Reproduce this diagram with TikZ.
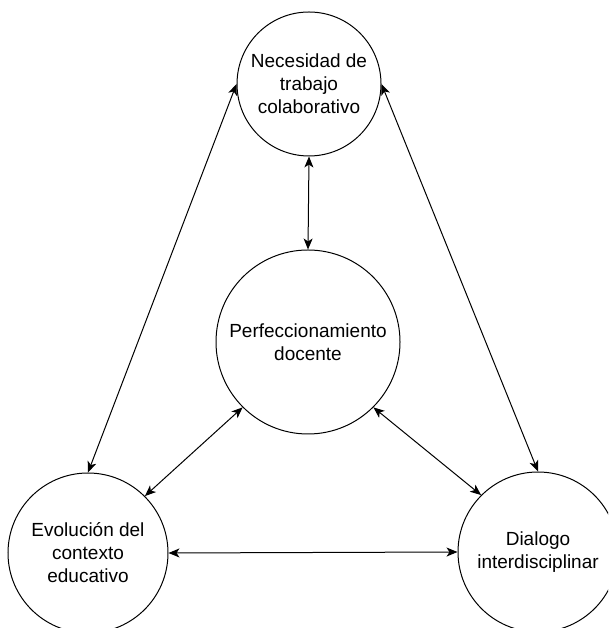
\documentclass[tikz,border=0pt]{standalone}
\usepackage{fontspec}
\setmainfont{Liberation Sans}
\usepackage{tikz}
\usetikzlibrary{positioning, arrows.meta}
\tikzstyle{idea} = [circle, draw, line width=1pt, align=center, inner sep=0pt, font=\fontsize{19}{23}\selectfont]
\tikzstyle{link} = [draw, line width=1pt, {Stealth[length=11pt, width=9pt, inset=3pt]}-{Stealth[length=11pt, width=9pt, inset=3pt]}]

\begin{document}
\begin{tikzpicture}[x=1pt, y=1pt, node distance=220pt]
        \useasboundingbox (0,0) rectangle (608,628);
        \clip (0,0) rectangle (608,628);
        % Nodes
        \node (perf) [idea, minimum size=184pt] at (308,286) {Perfeccionamiento\\docente};
        \node (nec) [idea, minimum size=144pt, above of=perf, yshift=38pt, xshift=1pt] {Necesidad de\\trabajo\\colaborativo};
        \node (evo) [idea, minimum size=160pt, left of=perf, yshift=-211pt] {Evolución del\\contexto\\educativo};
        \node (dia) [idea, minimum size=160pt, right of=perf, xshift=10pt, yshift=-210pt] {Dialogo\\interdisciplinar};
        % Edges
        \path [link] (nec.south) -- (perf.north);
        \path [link] (nec.west) -- (evo.north);
        \path [link] (nec.east) -- (dia.north);
        \path [link] (perf.south west) -- (evo.north east);
        \path [link] (perf.south east) -- (dia.north west);
        \path [link] (evo.east) -- (dia.west);
    \end{tikzpicture}
\end{document}
